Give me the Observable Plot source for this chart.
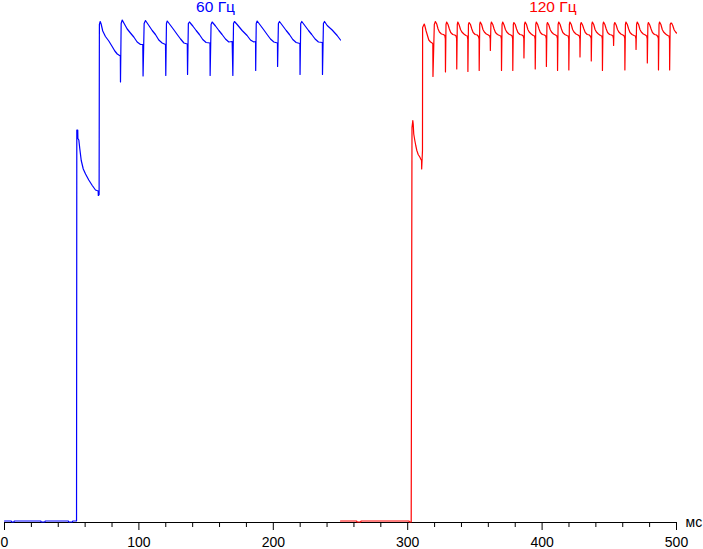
<!DOCTYPE html>
<html>
<head>
<meta charset="utf-8">
<script src="https://cdn.jsdelivr.net/npm/d3@7"></script>
<script src="https://cdn.jsdelivr.net/npm/@observablehq/plot@0.6"></script>
<style>
  html, body { margin: 0; padding: 0; background: #fff; }
</style>
</head>
<body>
<div id="chart"></div>
<script>
// ---- data (time in ms, brightness in %) ----
const blueSignal = [
  [0,0.3],[5,0.3],[5.3,0.1],[7,0.1],[7.3,0.3],[27,0.3],[27.3,0.1],[30,0.1],[30.3,0.3],[47.5,0.3],[47.8,0.1],[50.5,0.1],[50.8,0.3],[53.6,0.3],
  [53.8,78.5],[54.5,78.5],[54.6,76.8],[55.3,76.5],[56.0,74.8],[57.1,72.4],[58.6,70.7],[60.3,69.7],[62.7,68.5],[65.3,67.4],[67.7,66.5],[69.7,66.3],[69.8,65.4],[70.4,65.6],[70.6,99.6],
  [71.2,100.2],[71.9,99.7],[73.1,98.3],[75.1,97.2],[77.6,96.3],[80.1,95.2],[82.1,94.3],[83.9,93.7],[86.2,93.3],[86.3,88.1],[86.8,99.8],
  [87.6,100.5],[88.8,99.9],[91.3,98.7],[93.7,97.9],[96.2,97.1],[98.7,96.1],[101.2,95.6],[102.9,95.6],[103.1,89.3],[103.9,99.8],
  [104.9,100.4],[107.4,99.4],[109.9,98.4],[112.3,97.6],[114.8,96.5],[117.3,95.9],[119.8,95.6],[120.0,89.4],[120.5,99.8],
  [121.1,100.3],[123.6,99.4],[126.1,98.5],[128.5,97.6],[131.0,96.7],[133.5,95.9],[136.0,95.7],[136.2,89.6],[136.8,99.8],
  [137.6,100.1],[140.1,99.3],[142.6,98.4],[145.0,97.6],[147.5,96.6],[150.0,96.0],[152.9,95.9],[153.0,89.4],[153.7,99.6],
  [154.5,100.1],[157.0,99.3],[159.5,98.4],[161.9,97.6],[164.4,96.7],[166.9,96.1],[169.4,96.2],[169.9,89.4],[170.4,99.8],
  [171.1,100.2],[173.1,99.6],[176.8,98.4],[180.5,97.4],[183.0,96.5],[185.5,96.1],[186.8,96.2],[186.9,90.4],[187.3,99.8],
  [188.0,100.3],[190.5,99.4],[193.0,98.5],[195.4,97.6],[197.9,96.7],[200.4,96.1],[203.1,95.9],[203.2,91.2],[203.8,99.8],
  [204.6,100.2],[207.1,99.3],[209.6,98.4],[212.0,97.6],[214.5,96.6],[217.0,96.0],[219.8,95.8],[219.9,89.6],[220.4,99.8],
  [221.2,100.2],[223.7,99.3],[226.2,98.4],[228.6,97.6],[231.1,96.7],[233.6,96.1],[236.5,96.0],[236.6,89.6],[237.3,99.8],
  [238.1,100.2],[240.1,99.4],[243.8,98.5],[247.5,97.4],[250.0,96.5]
];

const redSignal = [
  [250,0.3],[262,0.3],[262.3,0.1],[265,0.1],[265.3,0.3],[301,0.3],[301.3,0.1],[302.6,0.1],
  [303.2,79.0],[303.8,80.4],[304.1,79.7],[304.5,77.7],[305.3,76.4],[306.0,75.4],[306.8,74.4],[307.8,73.6],[309.0,73.1],[309.7,72.7],[310.3,72.4],[310.4,70.7],[311.0,74.4],[311.1,99.0],
  [312.3,99.7],[312.7,99.4],[313.7,98.3],[314.7,97.4],[315.7,96.5],[317.0,96.1],[318.2,95.9],[318.7,95.7],[318.8,89.2],[319.8,99.6],
  [320.6,100.2],[321.6,99.7],[322.6,98.7],[323.6,98.1],[325.1,97.7],[326.6,97.6],[327.6,97.4],[328.0,96.7],[328.1,90.1],[328.5,99.6],
  [329.0,100.1],[330.0,99.6],[331.0,98.7],[332.0,98.0],[333.5,97.6],[335.0,97.5],[336.0,97.3],[336.4,96.8],[336.5,90.7],[336.9,99.6],
  [337.3,100.1],[338.3,99.5],[339.3,98.6],[340.3,98.1],[341.8,97.7],[343.3,97.4],[344.3,97.3],[344.7,96.6],[344.8,90.2],[345.2,99.6],
  [345.7,100.0],[346.7,99.6],[347.7,98.7],[348.7,98.0],[350.2,97.6],[351.7,97.5],[352.7,97.2],[353.1,96.7],[353.2,90.4],[353.6,99.6],
  [354.0,100.1],[355.0,99.6],[356.0,98.6],[357.0,98.1],[358.5,97.7],[360.0,97.5],[361.0,97.3],[361.4,96.8],[361.5,94.4],[361.9,99.6],
  [362.3,100.1],[363.3,99.6],[364.3,98.7],[365.3,98.0],[366.8,97.6],[368.3,97.4],[369.3,97.3],[369.7,96.7],[369.8,90.4],[370.2,99.6],
  [370.7,100.1],[371.7,99.5],[372.7,98.6],[373.7,98.1],[375.2,97.7],[376.7,97.5],[377.7,97.3],[378.1,96.7],[378.2,90.4],[378.6,99.6],
  [379.0,100.0],[380.0,99.6],[381.0,98.7],[382.0,98.0],[383.5,97.6],[385.0,97.5],[386.0,97.3],[386.4,96.8],[386.5,92.9],[386.9,99.6],
  [387.4,100.1],[388.4,99.6],[389.4,98.6],[390.4,98.1],[391.9,97.7],[393.4,97.4],[394.4,97.3],[394.8,96.6],[394.9,90.7],[395.3,99.6],
  [395.7,100.1],[396.7,99.6],[397.7,98.7],[398.7,98.0],[400.2,97.6],[401.7,97.5],[402.7,97.3],[403.1,96.7],[403.2,91.2],[403.6,99.6],
  [404.0,100.0],[405.0,99.5],[406.0,98.6],[407.0,98.1],[408.5,97.7],[410.0,97.5],[411.0,97.3],[411.4,96.8],[411.5,90.4],[411.9,99.6],
  [412.4,100.1],[413.4,99.6],[414.4,98.7],[415.4,98.0],[416.9,97.6],[418.4,97.4],[419.4,97.3],[419.8,96.7],[419.9,90.5],[420.3,99.6],
  [420.7,100.1],[421.7,99.6],[422.7,98.6],[423.7,98.1],[425.2,97.7],[426.7,97.5],[427.7,97.3],[428.1,96.7],[428.2,93.1],[428.6,99.6],
  [429.1,100.0],[430.1,99.5],[431.1,98.7],[432.1,98.0],[433.6,97.6],[435.1,97.5],[436.1,97.2],[436.5,96.8],[436.6,92.3],[437.0,99.6],
  [437.4,100.1],[438.4,99.6],[439.4,98.6],[440.4,98.1],[441.9,97.7],[443.4,97.4],[444.4,97.3],[444.8,96.7],[444.9,90.4],[445.3,99.6],
  [445.7,100.1],[446.7,99.6],[447.7,98.7],[448.7,98.0],[450.2,97.6],[451.7,97.5],[452.7,97.3],[453.1,96.7],[453.2,95.4],[453.6,99.6],
  [454.1,100.0],[455.1,99.5],[456.1,98.6],[457.1,98.1],[458.6,97.7],[460.1,97.5],[461.1,97.3],[461.5,96.8],[461.6,90.5],[462.0,99.6],
  [462.4,100.1],[463.4,99.6],[464.4,98.7],[465.4,98.0],[466.9,97.6],[468.4,97.4],[469.4,97.3],[469.8,96.7],[469.9,94.6],[470.3,99.6],
  [470.8,100.1],[471.8,99.6],[472.8,98.6],[473.8,98.1],[475.3,97.7],[476.8,97.5],[477.8,97.3],[478.2,96.7],[478.3,91.9],[478.7,99.6],
  [479.1,100.0],[480.1,99.5],[481.1,98.7],[482.1,98.0],[483.6,97.6],[485.1,97.5],[486.1,97.2],[486.5,96.8],[486.6,90.5],[487.0,99.6],
  [487.4,100.1],[488.4,99.6],[489.4,98.6],[490.4,98.1],[491.9,97.7],[493.4,97.4],[494.4,97.3],[494.8,96.7],[494.9,90.5],[495.3,99.6],
  [495.8,99.9],[496.3,99.9],[497.2,99.4],[498.3,98.5],[499.3,98.1],[500.0,97.9]
];

const majorTicks = [0, 100, 200, 300, 400, 500];
const minorTicks = [20, 40, 60, 80, 120, 140, 160, 180, 220, 240, 260, 280, 320, 340, 360, 380, 420, 440, 460, 480];
const seriesLabels = ["60 Гц", "120 Гц"];
const unitLabel = "мс";

const font = "'Liberation Sans', Arial, Helvetica, sans-serif";

const chart = Plot.plot({
  width: 703,
  height: 549,
  marginLeft: 4,
  marginRight: 27,
  marginTop: 22,
  marginBottom: 27,
  style: { fontFamily: font, fontSize: "14px", background: "#fff", color: "#000", overflow: "visible" },
  x: { domain: [0, 500] },
  y: { domain: [0, 100], axis: null },
  marks: [
    Plot.axisX(minorTicks, { tickSize: 5, text: null, stroke: "#000" }),
    Plot.axisX(majorTicks, { tickSize: 8, tickPadding: 7, tickFormat: d => String(d), fontSize: 14, fill: "#000", stroke: "#000", label: null }),
    Plot.ruleY([0], { stroke: "#000", strokeWidth: 1 }),
    Plot.line(blueSignal, { x: d => d[0], y: d => d[1], stroke: "#0000ff", strokeWidth: 1.2 }),
    Plot.line(redSignal, { x: d => d[0], y: d => d[1], stroke: "#ff0000", strokeWidth: 1.2 }),
    Plot.text([seriesLabels[0]], { x: 157, text: d => d, frameAnchor: "top", dy: -15, lineAnchor: "middle", fill: "#0000ff", fontSize: 15.5 }),
    Plot.text([seriesLabels[1]], { x: 408, text: d => d, frameAnchor: "top", dy: -15, lineAnchor: "middle", fill: "#ff0000", fontSize: 15.5 }),
    Plot.text([unitLabel], { text: d => d, frameAnchor: "bottom-right", dx: 9, dy: 0, textAnchor: "start", lineAnchor: "middle", fill: "#000", fontSize: 14 })
  ]
});
document.getElementById("chart").appendChild(chart);
</script>
</body>
</html>
